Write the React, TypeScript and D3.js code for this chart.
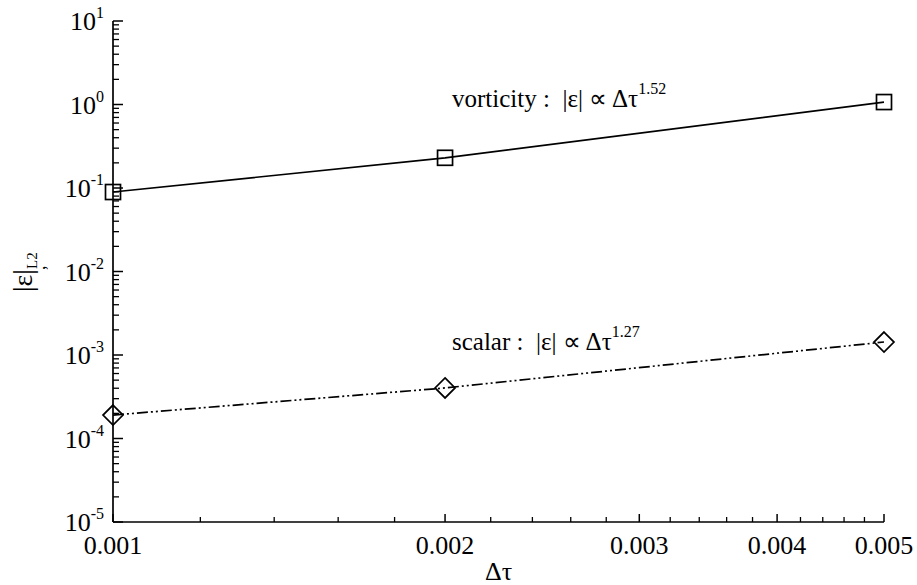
import React from "react";
import * as d3 from "d3";

const dtValues = [0.001, 0.002, 0.005];
const vorticityErr = [0.0895, 0.23, 1.07];
const scalarErr = [1.91e-4, 4.03e-4, 1.43e-3];
const xMajorTicks = [0.001, 0.002, 0.003, 0.004, 0.005];
const xTickLabels = ["0.001", "0.002", "0.003", "0.004", "0.005"];
const yExponents = [1, 0, -1, -2, -3, -4, -5];

const W = 917;
const H = 585;
const FONT = "'Liberation Serif', 'Times New Roman', serif";

export default function App() {
  const x = d3.scaleLog().domain([0.001, 0.005]).range([113, 884]);
  const y = d3.scaleLog().domain([1e-5, 10]).range([522, 21]);

  const xMinor: number[] = [];
  for (let i = 10; i <= 50; i += 2) {
    const v = i / 10000;
    if (i % 10 !== 0) xMinor.push(v);
  }
  const yMinor: number[] = [];
  for (let e = -5; e < 1; e++) {
    for (let m = 2; m <= 9; m++) yMinor.push(m * Math.pow(10, e));
  }

  const line = d3
    .line<[number, number]>()
    .x((d) => x(d[0]))
    .y((d) => y(d[1]));

  const vort: [number, number][] = dtValues.map((d, i) => [d, vorticityErr[i]]);
  const scal: [number, number][] = dtValues.map((d, i) => [d, scalarErr[i]]);

  const x0 = x(0.001);
  const y0 = y(1e-5);

  return (
    <svg
      width={W}
      height={H}
      style={{ position: "absolute", left: 0, top: 0, background: "#fff" }}
      fontFamily={FONT}
    >
      <rect width={W} height={H} fill="#fff" />
      {/* axes */}
      <line x1={x0} x2={x0} y1={y(10)} y2={y0} stroke="#000" strokeWidth={1.7} />
      <line x1={x0} x2={x(0.005)} y1={y0} y2={y0} stroke="#000" strokeWidth={1.7} />
      {/* y ticks */}
      {yExponents.map((e) => (
        <line key={"ym" + e} x1={x0} x2={x0 + 10} y1={y(Math.pow(10, e))} y2={y(Math.pow(10, e))} stroke="#000" strokeWidth={1.5} />
      ))}
      {yMinor.map((v, i) => (
        <line key={"yn" + i} x1={x0} x2={x0 + 6} y1={y(v)} y2={y(v)} stroke="#000" strokeWidth={1.3} />
      ))}
      {/* y tick labels */}
      {yExponents.map((e) => (
        <text key={"yl" + e} x={x0 - 9} y={y(Math.pow(10, e)) + 9} textAnchor="end" fontSize={26} fill="#000">
          10
          <tspan fontSize={16} dy={-12}>{e}</tspan>
        </text>
      ))}
      {/* x ticks */}
      {xMajorTicks.map((v) => (
        <line key={"xm" + v} x1={x(v)} x2={x(v)} y1={y0} y2={y0 - 8} stroke="#000" strokeWidth={1.5} />
      ))}
      {xMinor.map((v, i) => (
        <line key={"xn" + i} x1={x(v)} x2={x(v)} y1={y0} y2={y0 - 5} stroke="#000" strokeWidth={1.3} />
      ))}
      {xMajorTicks.map((v, i) => (
        <text key={"xl" + v} x={x(v)} y={554} textAnchor="middle" fontSize={26} fill="#000">
          {xTickLabels[i]}
        </text>
      ))}
      {/* axis titles */}
      <text x={(x0 + x(0.005)) / 2} y={580} textAnchor="middle" fontSize={26} fill="#000">
        Δτ
      </text>
      <g transform="translate(32,292) rotate(-90)">
        <text x={0} y={0} fontSize={28} fill="#000">
          |ε|
          <tspan fontSize={15} dy={5}>L2</tspan>
        </text>
      </g>
      <text x={43} y={272} fontSize={18} fill="#000" transform="rotate(-90,43,270)">,</text>
      {/* series lines */}
      <path d={line(vort) || ""} fill="none" stroke="#000" strokeWidth={1.7} />
      <path d={line(scal) || ""} fill="none" stroke="#000" strokeWidth={1.7} strokeDasharray="11 3 2 3 2 3" />
      {/* markers */}
      {vort.map((d, i) => (
        <rect key={"sq" + i} x={x(d[0]) - 7.5} y={y(d[1]) - 7.5} width={15} height={15} fill="none" stroke="#000" strokeWidth={1.7} />
      ))}
      {scal.map((d, i) => {
        const cx = x(d[0]);
        const cy = y(d[1]);
        const r = 10;
        return (
          <path
            key={"dm" + i}
            d={`M${cx},${cy - r}L${cx + r},${cy}L${cx},${cy + r}L${cx - r},${cy}Z`}
            fill="none"
            stroke="#000"
            strokeWidth={1.7}
          />
        );
      })}
      {/* annotations */}
      <text x={452} y={107} fontSize={25} fill="#000" xmlSpace="preserve">
        {"vorticity :  |ε| ∝ Δτ"}
        <tspan fontSize={16} dy={-13}>1.52</tspan>
      </text>
      <text x={452} y={350} fontSize={25} fill="#000" xmlSpace="preserve">
        {"scalar :  |ε| ∝ Δτ"}
        <tspan fontSize={16} dy={-13}>1.27</tspan>
      </text>
    </svg>
  );
}
